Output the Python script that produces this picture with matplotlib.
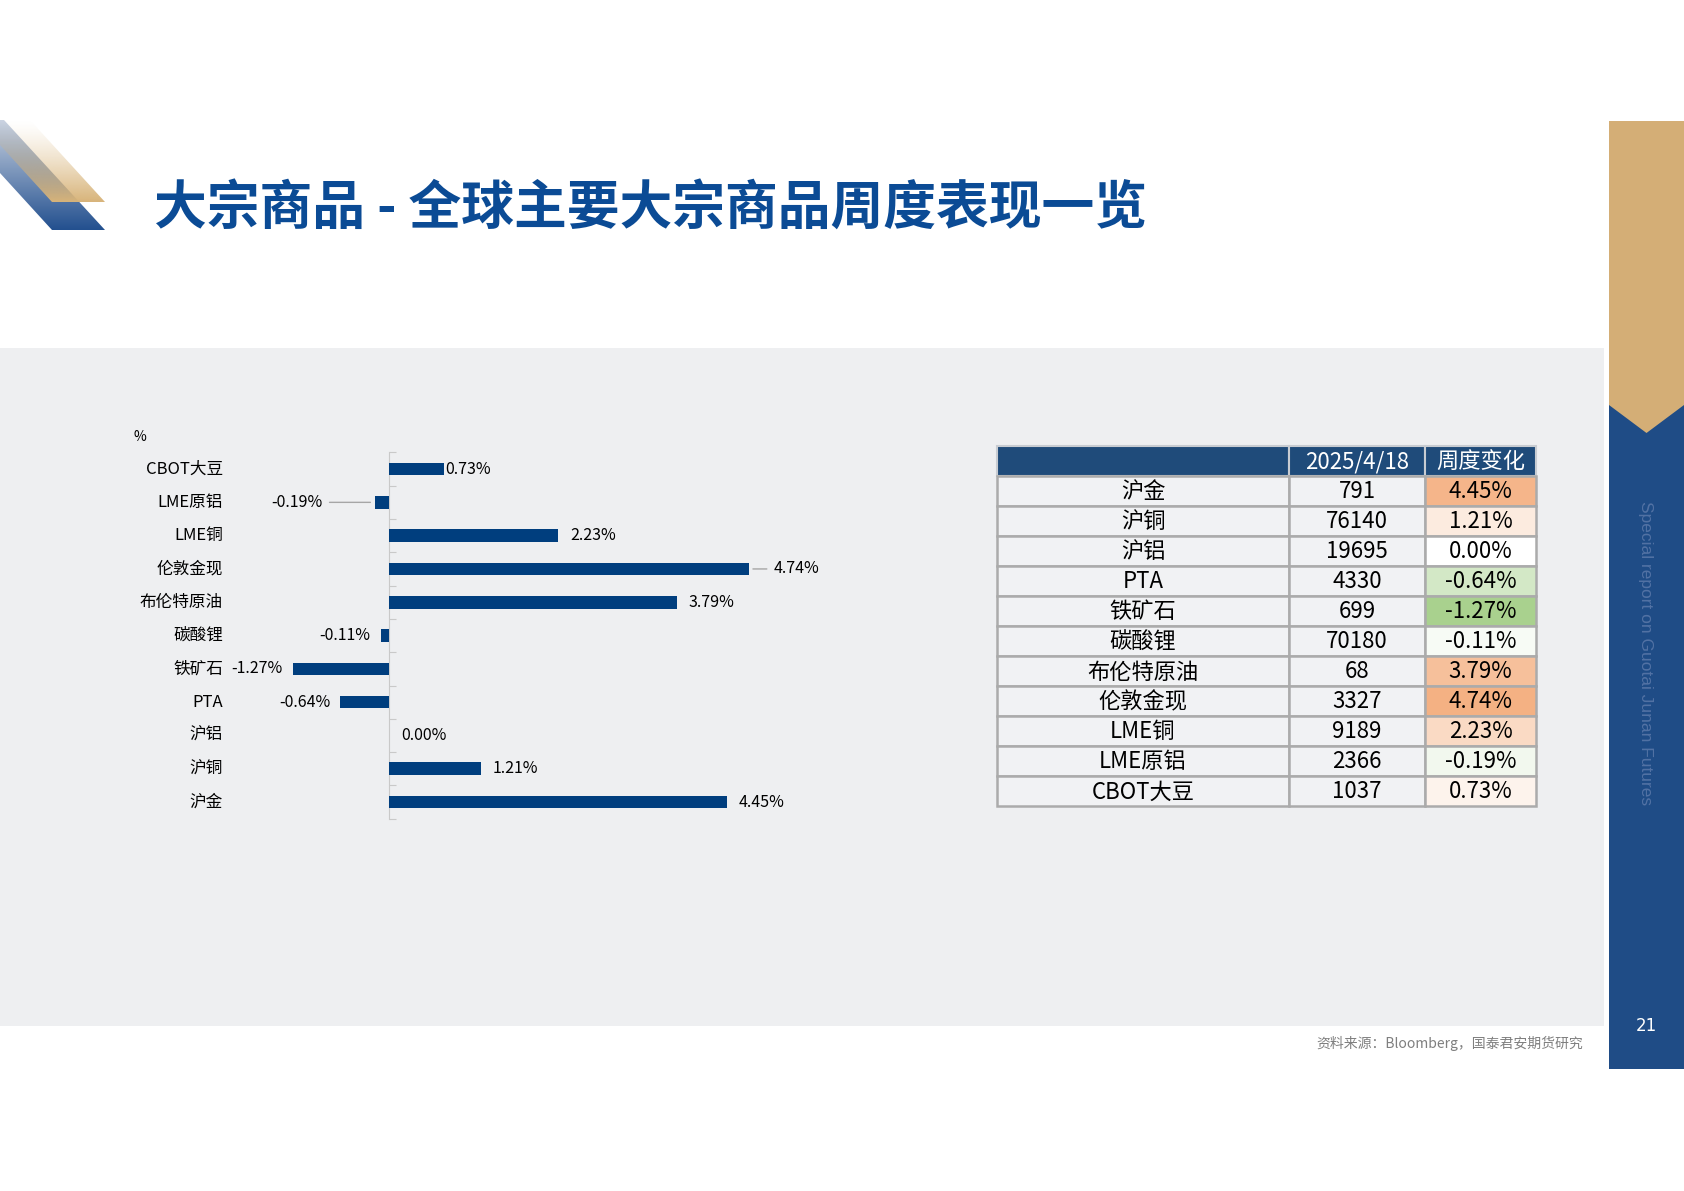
import numpy as np
import matplotlib
matplotlib.use('Agg')
import matplotlib.pyplot as plt
from matplotlib.patches import Rectangle, Polygon
from matplotlib.colors import LinearSegmentedColormap, TwoSlopeNorm, to_rgb

plt.rcParams['font.family'] = ['Noto Sans CJK SC', 'DejaVu Sans']

# data (table order, top to bottom); the bar chart draws 沪金 at the bottom
names = ['沪金', '沪铜', '沪铝', 'PTA', '铁矿石', '碳酸锂', '布伦特原油', '伦敦金现', 'LME铜', 'LME原铝', 'CBOT大豆']
prices = [791, 76140, 19695, 4330, 699, 70180, 68, 3327, 9189, 2366, 1037]
changes = [4.45, 1.21, 0.00, -0.64, -1.27, -0.11, 3.79, 4.74, 2.23, -0.19, 0.73]
date_label = '2025/4/18'
change_label = '周度变化'
title = '大宗商品 - 全球主要大宗商品周度表现一览'
source = '资料来源：Bloomberg，国泰君安期货研究'
side_text = 'Special report on Guotai Junan Futures'
page_no = '21'

W, H = 1684, 1191
fig = plt.figure(figsize=(W / 100, H / 100), dpi=100)
page = fig.add_axes([0, 0, 1, 1])
page.set_axis_off()

# grey panel
page.add_patch(Rectangle((0, 348), 1604, 678, facecolor='#EEEFF1', edgecolor='none', zorder=0))

# right sidebar
page.add_patch(Rectangle((1609, 121), 75, 948, facecolor='#1F4C86', edgecolor='none', zorder=1))
page.add_patch(Polygon([(1609, 121), (1684, 121), (1684, 405), (1646.5, 433), (1609, 405)],
                       closed=True, facecolor='#D4AE76', edgecolor='none', zorder=2))
page.text(1646, 653, side_text, rotation=-90, ha='center', va='center', color='#5272A4',
          fontsize=12.5, family=['Liberation Sans Narrow', 'Liberation Sans', 'DejaVu Sans'], zorder=3)
page.text(1646, 1026, page_no, ha='center', va='center', color='white', fontsize=12,
          family=['DejaVu Sans'], zorder=3)

# logo: two gradient stripes
ny = 120
t = np.linspace(0, 1, ny)[:, None]
c_top, c_bot = np.array(to_rgb('#CBD4E2')), np.array(to_rgb('#23508F'))
blue_img = np.ones((ny, 2, 4))
blue_img[..., :3] = (c_top * (1 - t[..., None]) + c_bot * t[..., None])
im = page.imshow(blue_img, extent=(0, 110, 230, 120), origin='upper', aspect='auto', zorder=2,
                 interpolation='bilinear')
bp = Polygon([(0, 120), (4, 120), (105, 230), (52, 230), (0, 173)], closed=True,
             transform=page.transData, facecolor='none', edgecolor='none')
page.add_patch(bp)
im.set_clip_path(bp)

gold_img = np.ones((ny, 2, 4))
gold_img[..., :3] = to_rgb('#D8B47A')
gold_img[..., 3] = (t[:, 0][:, None] ** 1.3) * np.ones((1, 2))
im2 = page.imshow(gold_img, extent=(0, 110, 202, 120), origin='upper', aspect='auto', zorder=3,
                  interpolation='bilinear')
gp = Polygon([(0, 120), (30, 120), (105, 202), (52, 202), (0, 145)], closed=True,
             transform=page.transData, facecolor='none', edgecolor='none')
page.add_patch(gp)
im2.set_clip_path(gp)

# title
page.text(154, 209, title, ha='left', va='center', fontsize=38, fontweight=900, color='#0B4B95')

# source
page.text(1583, 1043, source, ha='right', va='center', fontsize=10, color='#7F7F7F')

# table
col_x = [997, 1289, 1425, 1536]
row_h = 30
top = 446
cmap = LinearSegmentedColormap.from_list('gwo', ['#A9D18E', '#FFFFFF', '#F4B183'])
norm = TwoSlopeNorm(vmin=min(changes), vcenter=0.0, vmax=max(changes))
edge = '#ABABAB'
header = ['', date_label, change_label]
for j in range(3):
    page.add_patch(Rectangle((col_x[j], top), col_x[j + 1] - col_x[j], row_h,
                             facecolor='#1F4B7A', edgecolor='#C8CCD2', lw=1.5, zorder=4))
    page.text((col_x[j] + col_x[j + 1]) / 2, top + row_h / 2 + 1, header[j], ha='center', va='center',
              color='white', fontsize=16, zorder=5)
for i, (n, p, c) in enumerate(zip(names, prices, changes)):
    y0 = top + row_h * (i + 1)
    cells = [n, str(p), f'{c:.2f}%']
    fills = ['#F1F2F4', '#F1F2F4', cmap(norm(c))]
    for j in range(3):
        page.add_patch(Rectangle((col_x[j], y0), col_x[j + 1] - col_x[j], row_h,
                                 facecolor=fills[j], edgecolor=edge, lw=1.8, zorder=4))
        page.text((col_x[j] + col_x[j + 1]) / 2, y0 + row_h / 2 + 1, cells[j], ha='center', va='center',
                  color='black', fontsize=16, zorder=5)

page.text(140, 437, '%', ha='center', va='center', fontsize=10, color='black')

page.set_xlim(0, W)
page.set_ylim(H, 0)

# bar chart
px_per_unit = 75.9
zero_x = 389
x_lo, x_hi = -3.0, 5.0
left = zero_x + x_lo * px_per_unit
width = (x_hi - x_lo) * px_per_unit
ax_top, ax_bot = 452.4, 818.7
ax = fig.add_axes([left / W, 1 - ax_bot / H, width / W, (ax_bot - ax_top) / H])
ax.set_facecolor('none')
ypos = np.arange(len(names))
ax.barh(ypos, changes, height=0.38, color='#003E7E', edgecolor='none', zorder=3)
ax.set_xlim(x_lo, x_hi)
ax.set_ylim(-0.5, len(names) - 0.5)
for s in ['top', 'right', 'bottom']:
    ax.spines[s].set_visible(False)
ax.spines['left'].set_position(('data', 0))
ax.spines['left'].set_color('#C9C9C9')
ax.set_xticks([])
ax.set_yticks(np.arange(-0.5, len(names), 1))
ax.set_yticklabels([])
ax.tick_params(axis='y', direction='in', length=5, color='#C9C9C9')

ytrans = ax.get_yaxis_transform()
for i, n in enumerate(names):
    ax.text((223 - left) / width, i, n, transform=ytrans, ha='right', va='center', fontsize=12,
            color='black')

# label placement tweaks (pixels)
label_shift = {'CBOT大豆': 1, 'LME原铝': -52, '伦敦金现': 25}
leader = {'LME原铝', '伦敦金现'}
for i, (n, c) in enumerate(zip(names, changes)):
    dx = label_shift.get(n, 12 if c >= 0 else -10)
    ha = 'left' if dx > 0 else 'right'
    kw = {}
    if n in leader:
        kw['arrowprops'] = dict(arrowstyle='-', color='#A6A6A6', lw=1, shrinkA=3, shrinkB=3)
    ax.annotate(f'{c:.2f}%', xy=(c, i), xytext=(dx, 0), textcoords='offset pixels',
                ha=ha, va='center', fontsize=11.5, color='black', **kw)

fig.savefig('out.png', dpi=100)
